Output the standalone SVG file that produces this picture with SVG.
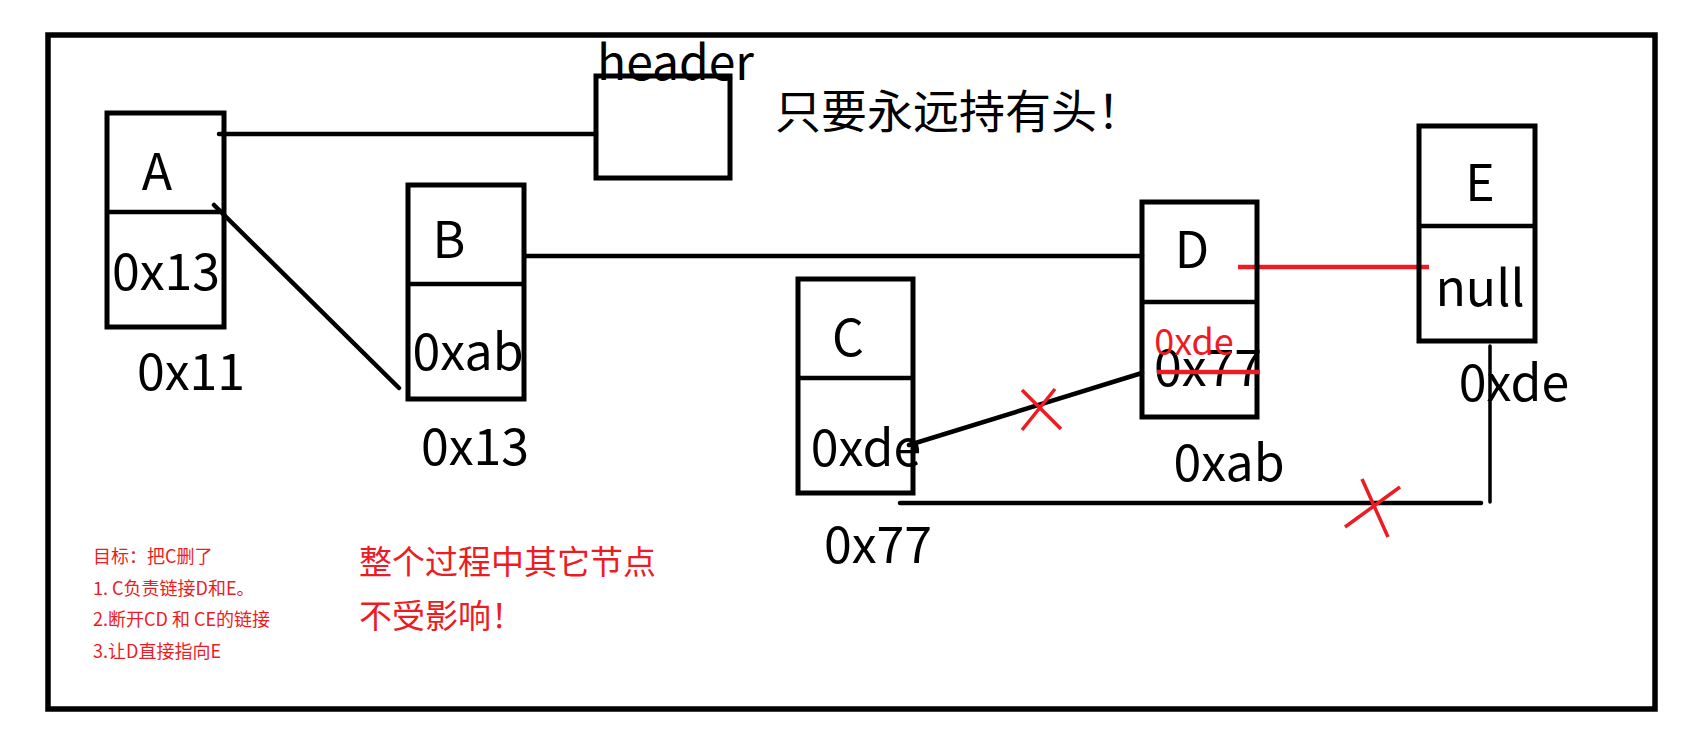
<svg xmlns="http://www.w3.org/2000/svg" width="1707" height="739" viewBox="0 0 1707 739">
<style>
text{font-family:"Noto Sans CJK SC","Noto Sans",sans-serif;fill:#000}
.box{fill:none;stroke:#000;stroke-width:5}
.big{font-size:50px;text-anchor:middle}
.red{fill:#ed1c24}
.ln{stroke:#000;stroke-width:4.5;fill:none;stroke-linecap:round}
.rl{stroke:#ed1c24;stroke-width:4.5;fill:none}
.x{stroke:#ed1c24;stroke-width:3.5;fill:none}
.note{font-size:18px;fill:#ed1c24}
.msg{font-size:33px;fill:#ed1c24}
</style>
<rect x="0" y="0" width="1707" height="739" fill="#fff"/>
<rect x="48" y="35" width="1607" height="674" fill="none" stroke="#000" stroke-width="5.5"/>
<g id="connectors">
<line class="ln" x1="219" y1="134" x2="596" y2="134"/>
<line class="ln" x1="214" y1="205" x2="399" y2="388"/>
<line class="ln" x1="525" y1="256" x2="1142" y2="256"/>
<line class="ln" x1="909" y1="445" x2="1142" y2="373"/>
<line class="ln" x1="900" y1="503" x2="1481" y2="503"/>
<line class="ln" x1="1490" y1="346" x2="1490" y2="502" style="stroke-width:3.5"/>
<line class="rl" x1="1238" y1="267" x2="1429" y2="267"/>
<line class="x" x1="1022" y1="390" x2="1061" y2="429"/>
<line class="x" x1="1055" y1="389" x2="1022" y2="430"/>
<line class="x" x1="1362" y1="479" x2="1388" y2="537"/>
<line class="x" x1="1400" y1="487" x2="1345" y2="527"/>
</g>
<g id="header">
<rect class="box" x="596" y="76" width="134" height="102"/>
<text x="597" y="80" style="font-size:48px">header</text>
</g>
<g id="nodeA">
<rect class="box" x="107" y="113" width="117" height="214"/>
<line class="ln" x1="107" y1="212" x2="224" y2="212" style="stroke-linecap:butt"/>
<text class="big" x="157" y="190">A</text>
<text class="big" x="166" y="290">0x13</text>
<text class="big" x="191" y="390">0x11</text>
</g>
<g id="nodeB">
<rect class="box" x="408" y="185" width="116" height="214"/>
<line class="ln" x1="408" y1="284" x2="524" y2="284" style="stroke-linecap:butt"/>
<text class="big" x="449" y="258">B</text>
<text class="big" x="468" y="370">0xab</text>
<text class="big" x="475" y="465">0x13</text>
</g>
<g id="nodeC">
<rect class="box" x="798" y="279" width="115" height="214"/>
<line class="ln" x1="798" y1="378" x2="913" y2="378" style="stroke-linecap:butt"/>
<text class="big" x="848" y="356">C</text>
<text class="big" x="866" y="466">0xde</text>
<text class="big" x="878" y="563">0x77</text>
</g>
<g id="nodeD">
<rect class="box" x="1142" y="202" width="115" height="215"/>
<line class="ln" x1="1142" y1="302" x2="1257" y2="302" style="stroke-linecap:butt"/>
<text class="big" x="1208" y="386">0x77</text>
<text class="big" x="1192" y="268">D</text>
<text class="red" x="1194" y="355" style="font-size:36px;text-anchor:middle">0xde</text>
<line class="rl" x1="1157" y1="372" x2="1260" y2="372"/>
<text class="big" x="1229" y="481">0xab</text>
</g>
<g id="nodeE">
<rect class="box" x="1419" y="126" width="116" height="215"/>
<line class="ln" x1="1419" y1="226" x2="1535" y2="226" style="stroke-linecap:butt"/>
<text class="big" x="1480" y="201">E</text>
<text class="big" x="1480" y="306">null</text>
<text class="big" x="1514" y="401">0xde</text>
</g>
<g id="notes">
<text x="775" y="128" style="font-size:46px">只要永远持有头！</text>
<text class="note" x="93" y="563">目标：把C删了</text>
<text class="note" x="93" y="595">1. C负责链接D和E。</text>
<text class="note" x="93" y="626">2.断开CD 和 CE的链接</text>
<text class="note" x="93" y="658">3.让D直接指向E</text>
<text class="msg" x="359" y="574">整个过程中其它节点</text>
<text class="msg" x="359" y="628">不受影响！</text>
</g>
</svg>
